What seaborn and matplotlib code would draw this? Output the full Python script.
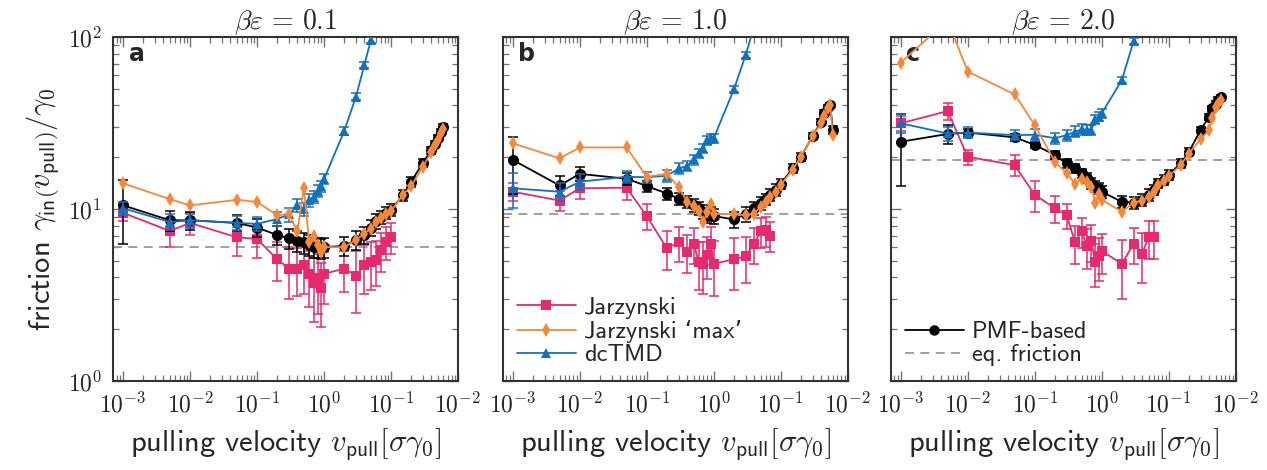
import numpy as np
import pandas as pd
import matplotlib
matplotlib.use('Agg')
import matplotlib.pyplot as plt
import seaborn as sns
from matplotlib.ticker import LogLocator, NullFormatter, FixedLocator, FixedFormatter
from matplotlib.lines import Line2D

# pulling velocities shared by all series (each series uses a prefix)
v_pull = [0.001, 0.005, 0.01, 0.05, 0.1, 0.2, 0.3, 0.4, 0.5, 0.6, 0.7, 0.8, 0.9, 1.0,
          2, 3, 4, 5, 6, 7, 8.5, 10, 15, 20, 30, 40, 45, 50, 55, 60]

titles = [r'$\beta\varepsilon\,=\,0.1$', r'$\beta\varepsilon\,=\,1.0$', r'$\beta\varepsilon\,=\,2.0$']
panel_letters = ['a', 'b', 'c']
eq_friction = [6.0, 9.4, 19.3]

# ---- panel a
jar_a = [9.5, 7.45, 8.3, 6.85, 6.7, 5.1, 4.5, 4.5, 4.7, 4.2, 3.7, 3.95, 3.46, 4.2,
         4.5, 4.1, 4.7, 4.9, 5.05, 5.8, 6.45, 6.85]
jar_a_err = [1.0, 1.4, 1.2, 1.5, 1.5, 1.3, 1.5, 1.4, 1.5, 1.5, 1.5, 1.5, 1.4, 1.4,
             1.2, 1.6, 1.5, 1.5, 1.5, 1.5, 1.4, 1.4]
jmax_a = [14.1, 11.4, 10.5, 11.3, 11.0, 9.2, 9.35, 7.4, 13.3, 6.45, 7.0, 6.2, 5.6, 6.0,
          6.0, 6.6, 7.2, 7.7, 8.4, 8.9, 9.35, 9.7, 12.1, 13.6, 17.6, 21.5, 23.6, 25.2, 27.5, 29.0]
dctmd_a = [10.1, 8.4, 8.6, 8.3, 8.2, 8.75, 9.3, 10.5, 9.96, 11.3, 11.8, 12.7, 13.6, 14.9,
           28.4, 45.0, 68.7, 96.0]
dctmd_a_err = [0.9, 0.9, 0.8, 0.8, 0.8, 0.8, 0.9, 0.9, 0.9, 1.0, 1.0, 1.0, 1.0, 1.0,
               1.5, 2.0, 3.0, 4.0]
pmf_a = [10.5, 8.6, 8.6, 8.3, 7.8, 7.06, 6.76, 6.5, 6.4, 6.2, 6.0, 6.0, 5.9, 6.0,
         6.1, 6.6, 7.1, 7.8, 8.5, 9.0, 9.5, 9.9, 12.0, 14.4, 18.6, 22.0, 24.0, 26.0, 28.0, 30.0]
pmf_a_err = [4.2, 1.2, 1.0, 0.9, 0.9, 0.9, 0.9, 0.9, 0.9, 0.9, 0.8, 0.8, 0.8, 0.8,
             0.8, 0.8, 0.8, 0.8, 0.8, 0.8, 0.8, 0.8, 0.9, 0.9, 1.0, 1.0, 1.0, 1.1, 1.1, 1.2]

# ---- panel b
jar_b = [12.6, 11.2, 13.2, 13.3, 9.1, 5.9, 6.4, 5.65, 6.3, 4.9, 4.8, 5.4, 6.3, 4.8,
         5.1, 5.3, 6.3, 7.4, 7.5, 7.0]
jar_b_err = [1.5, 1.5, 1.8, 2.0, 1.6, 1.5, 1.5, 1.4, 1.5, 1.5, 1.6, 1.5, 1.6, 1.7,
             1.7, 1.6, 1.5, 1.5, 1.5, 1.4]
jmax_b = [24.1, 19.7, 22.8, 22.8, 15.4, 16.0, 13.4, 11.0, 10.4, 9.8, 8.4, 9.65, 10.7, 9.35,
          9.35, 9.2, 9.4, 10.3, 11.0, 11.8, 12.6, 13.8, 16.9, 20.1, 26.6, 31.5, 34.7, 38.5, 40.2, 26.9]
dctmd_b = [13.2, 12.6, 14.4, 15.4, 15.3, 15.6, 17.2, 17.8, 19.4, 21.1, 22.5, 25.2, 25.8, 25.8,
           49.6, 78.6, 115.0]
dctmd_b_err = [3.0, 1.5, 1.5, 1.2, 1.2, 1.2, 1.2, 1.2, 1.3, 1.3, 1.4, 1.5, 1.5, 1.5,
               2.0, 3.0, 4.0]
pmf_b = [19.3, 13.7, 16.0, 15.0, 13.6, 12.3, 11.5, 11.0, 10.5, 10.1, 9.65, 9.2, 9.4, 9.1,
         8.7, 9.35, 10.1, 10.8, 11.4, 12.1, 12.9, 14.0, 17.2, 20.1, 26.6, 32.2, 36.0, 39.0, 40.0, 28.8]
pmf_b_err = [7.0, 1.8, 1.5, 1.2, 1.0, 1.0, 0.9, 0.9, 0.9, 0.9, 0.9, 0.9, 0.9, 0.9,
             0.9, 0.9, 0.9, 0.9, 0.9, 0.9, 1.0, 1.0, 1.0, 1.0, 1.2, 1.3, 1.4, 1.5, 1.5, 1.5]

# ---- panel c
jar_c = [31.5, 37.1, 20.1, 18.0, 12.1, 10.1, 9.2, 6.4, 7.4, 6.1, 6.5, 4.9, 5.3, 5.7,
         4.8, 6.3, 5.5, 6.85, 6.85]
jar_c_err = [3.0, 4.0, 2.0, 2.5, 2.5, 1.8, 1.5, 1.6, 1.5, 1.6, 1.6, 1.4, 1.5, 1.5,
             1.8, 1.5, 1.8, 1.7, 1.7]
jmax_c = [71.0, 125.0, 63.0, 46.4, 30.8, 18.8, 16.1, 14.0, 15.0, 14.4, 13.5, 10.8, 12.3, 11.3,
          9.65, 10.9, 11.2, 11.8, 12.6, 13.8, 14.5, 15.5, 18.0, 21.0, 25.5, 28.8, 34.0, 39.0, 41.0, 43.0]
dctmd_c = [31.5, 27.5, 27.8, 26.9, 27.0, 25.8, 26.9, 28.2, 29.0, 28.8, 28.8, 33.2, 34.4, 36.0,
           56.2, 95.0]
dctmd_c_err = [4.0, 2.5, 2.0, 1.8, 2.0, 1.8, 2.0, 2.0, 2.0, 2.0, 2.0, 2.0, 2.0, 2.0,
               2.5, 3.5]
pmf_c = [24.6, 27.3, 27.8, 26.1, 23.6, 20.6, 18.4, 17.2, 16.1, 15.1, 14.1, 13.5, 13.2, 12.6,
         11.0, 10.9, 11.3, 12.1, 12.9, 14.1, 14.7, 15.8, 18.4, 21.5, 28.8, 34.4, 38.5, 41.0, 43.0, 44.6]
pmf_c_err = [11.0, 3.5, 1.5, 1.2, 1.0, 1.0, 1.0, 1.0, 1.0, 1.0, 1.0, 1.0, 1.0, 1.0,
             0.9, 0.9, 0.9, 0.9, 0.9, 0.9, 1.0, 1.0, 1.0, 1.0, 1.2, 1.3, 1.4, 1.5, 1.5, 1.5]

x_ticks = [1e-3, 1e-2, 1e-1, 1e0, 1e1, 1e2]
x_tick_labels = [r'$10^{-3}$', r'$10^{-2}$', r'$10^{-1}$', r'$10^{0}$', r'$10^{-1}$', r'$10^{-2}$']
y_ticks = [1, 10, 100]
y_tick_labels = [r'$10^{0}$', r'$10^{1}$', r'$10^{2}$']

c_jar = '#E8286F'
c_max = '#F5883A'
c_dc = '#1271BE'
c_pmf = 'black'
c_eq = '0.6'

sns.set_theme(style='ticks')
plt.rcParams['font.family'] = ['cmss10', 'DejaVu Sans']
plt.rcParams['mathtext.fontset'] = 'cm'
plt.rcParams['axes.unicode_minus'] = False

fig = plt.figure(figsize=(12.67, 4.70), dpi=100)
lefts = [113 / 1267, 502.7 / 1267, 890.7 / 1267]
axes = [fig.add_axes([l, 1 - 381 / 470, 345 / 1267, 344 / 470]) for l in lefts]

panels = [
    (jar_a, jar_a_err, jmax_a, dctmd_a, dctmd_a_err, pmf_a, pmf_a_err),
    (jar_b, jar_b_err, jmax_b, dctmd_b, dctmd_b_err, pmf_b, pmf_b_err),
    (jar_c, jar_c_err, jmax_c, dctmd_c, dctmd_c_err, pmf_c, pmf_c_err),
]

for i, (ax, p) in enumerate(zip(axes, panels)):
    jar, jar_err, jmax, dc, dc_err, pmf, pmf_err = p
    ax.set_xscale('log')
    ax.set_yscale('log')

    ax.axhline(eq_friction[i], color=c_eq, ls=(0, (5, 3.5)), lw=1.3, zorder=1)

    series = [
        (jar, jar_err, c_jar, 's', 7.5, 2),
        (pmf, pmf_err, c_pmf, 'o', 8, 3),
        (dc, dc_err, c_dc, '^', 7.5, 4),
        (jmax, None, c_max, 'd', 7.5, 5),
    ]
    for vals, errs, color, marker, ms, z in series:
        n = len(vals)
        df = pd.DataFrame({'v': v_pull[:n], 'g': vals})
        if errs is not None:
            ax.errorbar(v_pull[:n], vals, yerr=errs, fmt='none', ecolor=color,
                        elinewidth=1.1, capsize=3.5, capthick=1.1, zorder=z - 0.5)
        sns.lineplot(data=df, x='v', y='g', color=color, marker=marker, markersize=ms,
                     markeredgewidth=0, lw=1.3, sort=False, estimator=None,
                     legend=False, ax=ax, zorder=z)

    ax.set_xlim(10 ** -3.15, 100)
    ax.set_ylim(1, 100)
    ax.xaxis.set_major_locator(FixedLocator(x_ticks))
    ax.xaxis.set_major_formatter(FixedFormatter(x_tick_labels))
    ax.xaxis.set_minor_locator(LogLocator(base=10, subs=np.arange(2, 10), numticks=20))
    ax.xaxis.set_minor_formatter(NullFormatter())
    ax.yaxis.set_major_locator(FixedLocator(y_ticks))
    ax.yaxis.set_minor_locator(LogLocator(base=10, subs=np.arange(2, 10), numticks=20))
    ax.yaxis.set_minor_formatter(NullFormatter())
    if i == 0:
        ax.yaxis.set_major_formatter(FixedFormatter(y_tick_labels))
        ax.set_ylabel(r'friction $\gamma_{\mathsf{in}}\left(v_{\mathsf{pull}}\right)/\gamma_0$',
                      fontsize=22, labelpad=4)
    else:
        ax.yaxis.set_major_formatter(NullFormatter())
        ax.set_ylabel('')

    ax.tick_params(which='both', direction='in', top=True, right=True, color='0.45',
                   labelsize=17)
    ax.tick_params(which='major', length=7, width=1.0, pad=8)
    ax.tick_params(which='minor', length=4, width=0.9)
    for s in ax.spines.values():
        s.set_linewidth(1.5)
        s.set_color('0.2')

    ax.set_xlabel(r'pulling velocity $v_{\mathsf{pull}}[\sigma\gamma_0]$', fontsize=22, labelpad=6)
    ax.set_title(titles[i], fontsize=20, pad=4)
    ax.text(0.045, 0.985, panel_letters[i], transform=ax.transAxes, fontsize=17,
            fontweight='bold', family='DejaVu Sans', va='top', ha='left')

    if i == 1:
        handles = [
            Line2D([], [], color=c_jar, marker='s', markersize=7.5, markeredgewidth=0, lw=1.3),
            Line2D([], [], color=c_max, marker='d', markersize=7.5, markeredgewidth=0, lw=1.3),
            Line2D([], [], color=c_dc, marker='^', markersize=7.5, markeredgewidth=0, lw=1.3),
        ]
        ax.legend(handles, ['Jarzynski', 'Jarzynski \u2018max\u2019', 'dcTMD'],
                  loc='lower left', frameon=False, fontsize=17.5, handlelength=2.4,
                  handletextpad=0.35, labelspacing=0.05, borderaxespad=0.2)
    if i == 2:
        handles = [
            Line2D([], [], color=c_pmf, marker='o', markersize=7.5, markeredgewidth=0, lw=1.3),
            Line2D([], [], color=c_eq, ls=(0, (5, 3.5)), lw=1.3),
        ]
        ax.legend(handles, ['PMF-based', 'eq. friction'],
                  loc='lower left', frameon=False, fontsize=17.5, handlelength=2.4,
                  handletextpad=0.35, labelspacing=0.05, borderaxespad=0.2)

fig.savefig('out.png', dpi=100)
